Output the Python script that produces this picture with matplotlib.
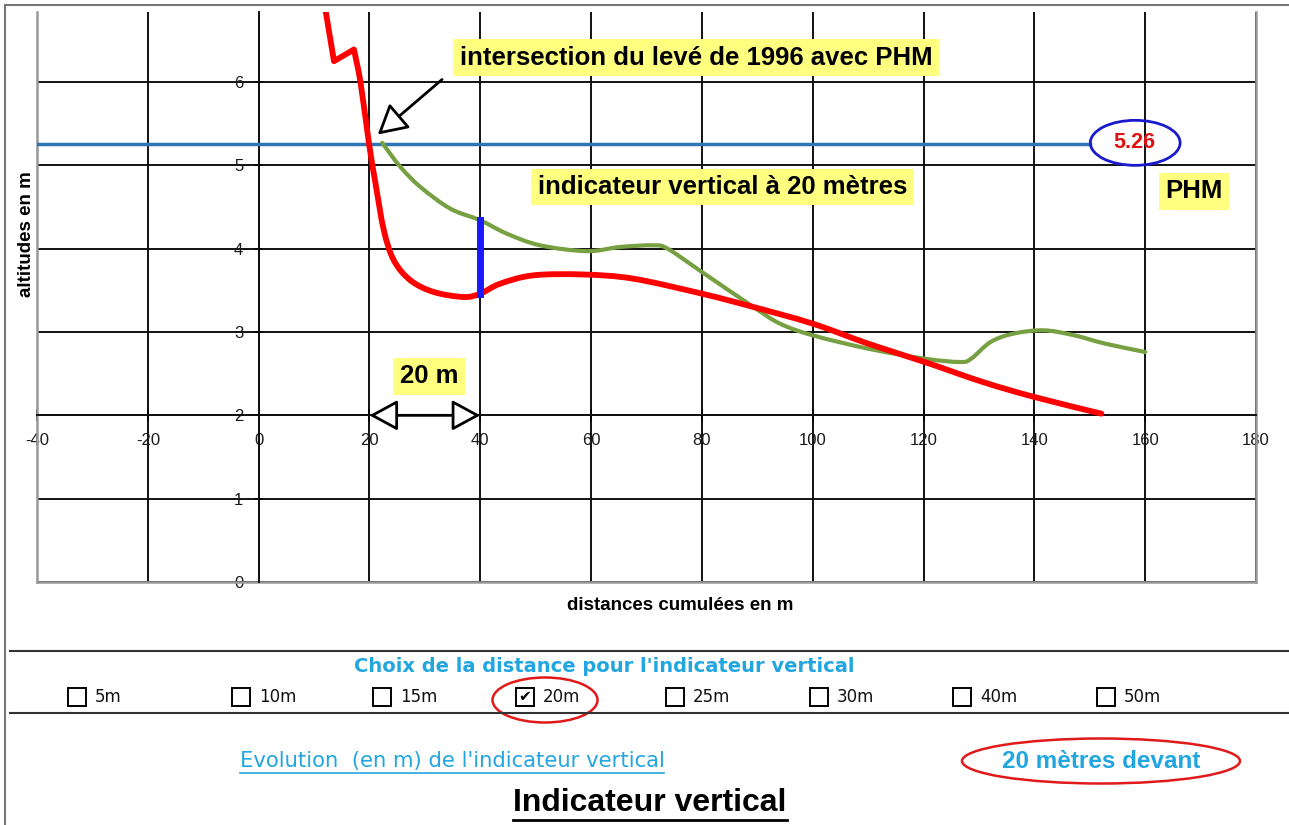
import numpy as np
import matplotlib
matplotlib.use('Agg')
import matplotlib.pyplot as plt
from matplotlib.patches import Ellipse, Rectangle, PathPatch
from matplotlib.path import Path
from matplotlib.lines import Line2D

# profil du levé de 1996 (courbe rouge)
dist_1996 = [11.5, 12.1, 13.6, 17.2, 18.4, 19.9, 21.1, 22.6, 24.4, 27.4, 31.6, 37.0, 40.0,
             43.6, 49.6, 58.6, 67.6, 80.0, 89.3, 100.0, 110.0, 120.2, 130.7, 140.0, 152.1]
alt_1996 = [7.1, 6.85, 6.25, 6.39, 5.99, 5.27, 4.78, 4.22, 3.86, 3.62, 3.48, 3.42, 3.46,
            3.58, 3.68, 3.69, 3.64, 3.46, 3.30, 3.10, 2.86, 2.64, 2.40, 2.22, 2.02]

# profil décalé de l'indicateur vertical (courbe verte)
dist_indic = [22.3, 25.6, 29.2, 34.6, 40.0, 44.8, 50.8, 59.2, 65.2, 71.2, 73.8, 80.0, 89.3,
              94.1, 100.0, 110.0, 120.2, 126.6, 128.6, 132.1, 136.2, 141.7, 147.2, 152.8, 160.0]
alt_indic = [5.27, 4.98, 4.74, 4.48, 4.34, 4.18, 4.04, 3.97, 4.02, 4.04, 4.00, 3.72, 3.30,
             3.10, 2.96, 2.80, 2.68, 2.64, 2.68, 2.88, 2.98, 3.02, 2.96, 2.86, 2.76]

phm_level = 5.26
phm_x = [-40, 150]
indic_dist = 20
indic_x = 40
indic_low = 3.46
indic_high = 4.34
arrow_x = [20, 40]

x_ticks = list(range(-40, 181, 20))
y_ticks = list(range(0, 7))
choix = ['5m', '10m', '15m', '20m', '25m', '30m', '40m', '50m']
choix_coche = '20m'

CYAN = '#22a6df'
YELLOW = '#ffff80'
W, H = 1289, 825

plt.rcParams['font.family'] = ['Liberation Sans', 'DejaVu Sans']
plt.rcParams['axes.unicode_minus'] = False


def fx(px):
    return px / W


def fy(py):
    return 1 - py / H


def smooth_path(xs, ys, corners=()):
    # courbe lissée façon tableur (Catmull-Rom -> Bézier), angles vifs aux indices donnés
    p = np.column_stack([xs, ys]).astype(float)
    n = len(p)
    verts = [p[0]]
    codes = [Path.MOVETO]
    for i in range(n - 1):
        p0 = p[i - 1] if i > 0 and i not in corners else p[i]
        p1, p2 = p[i], p[i + 1]
        p3 = p[i + 2] if i + 2 < n and (i + 1) not in corners else p[i + 1]
        verts += [p1 + (p2 - p0) / 6, p2 - (p3 - p1) / 6, p2]
        codes += [Path.CURVE4] * 3
    return Path(verts, codes)


fig = plt.figure(figsize=(W / 100, H / 100), dpi=100)
ax = fig.add_axes([fx(37), fy(582), (1256 - 37) / W, (582 - 12) / H])
ax.set_xlim(-40, 180)
ax.set_ylim(0, 6.84)
ax.set_xticks(x_ticks)
ax.set_yticks(y_ticks)
ax.grid(True, color='#111111', lw=1.4)
ax.set_axisbelow(True)

ax.spines['bottom'].set_position(('data', 2))
ax.spines['left'].set_position(('data', 0))
for s in ['bottom', 'left']:
    ax.spines[s].set_color('#111111')
    ax.spines[s].set_linewidth(1.4)
ax.spines['top'].set_visible(False)
ax.spines['right'].set_color('#999999')
ax.spines['right'].set_linewidth(1.8)
ax.axvline(-40, color='#999999', lw=1.8, clip_on=False, zorder=2)
ax.axhline(0, color='#999999', lw=1.8, clip_on=False, zorder=2)

ax.tick_params(axis='x', direction='inout', length=8, width=1.2, pad=9,
               labelsize=12, labelcolor='#1a1a1a')
ax.tick_params(axis='y', direction='inout', length=6, width=1.2, pad=8,
               labelsize=12, labelcolor='#1a1a1a')

ax.set_ylabel('altitudes en m', fontweight='bold', fontsize=13.5)
ax.yaxis.set_label_coords(-0.002, 0.61)
ax.set_xlabel('distances cumulées en m', fontweight='bold', fontsize=13.5)
ax.xaxis.set_label_coords(0.5275, -0.027)

# courbes
ax.plot(phm_x, [phm_level, phm_level], color='#2e75b6', lw=2.5, zorder=3)
ax.add_patch(PathPatch(smooth_path(dist_indic, alt_indic), fill=False, ec='#77a042',
                       lw=3, zorder=4, capstyle='round', joinstyle='round'))
ax.add_patch(PathPatch(smooth_path(dist_1996, alt_1996, corners=(2, 3)), fill=False,
                       ec='#ff0000', lw=4.2, zorder=5, capstyle='round', joinstyle='round'))
ax.plot([indic_x, indic_x], [indic_low, indic_high], color='#1a1aff', lw=5, zorder=6)

# valeur PHM
ax.add_patch(Ellipse((158.2, phm_level + 0.01), 16.2, 0.54, fill=False,
                     ec='#1a1acc', lw=2, zorder=6))
ax.text(158.0, phm_level + 0.01, f'{phm_level:.2f}', color='#e01010', fontweight='bold',
        fontsize=15.5, ha='center', va='center', zorder=7)

# annotations
bbox = dict(boxstyle='square,pad=0.25', fc=YELLOW, ec='none')
ax.text(78.9, 6.29, 'intersection du levé de 1996 avec PHM', fontweight='bold',
        fontsize=18.5, ha='center', va='center', bbox=bbox, zorder=7)
ax.text(83.7, 4.74, f'indicateur vertical à {indic_dist} mètres', fontweight='bold',
        fontsize=18.5, ha='center', va='center', bbox=bbox, zorder=7)
ax.text(168.8, 4.69, 'PHM', fontweight='bold', fontsize=18.5, ha='center',
        va='center', bbox=bbox, zorder=7)
ax.text(30.75, 2.47, f'{indic_dist} m', fontweight='bold', fontsize=18.5, ha='center',
        va='center', bbox=bbox, zorder=7)

ax.annotate('', xy=(21.5, 5.37), xytext=(33.1, 6.03),
            arrowprops=dict(arrowstyle='-|>,head_length=0.72,head_width=0.4',
                            fc='white', ec='black', lw=2, mutation_scale=25,
                            shrinkA=0, shrinkB=0), zorder=8)
ax.annotate('', xy=(arrow_x[1], 2), xytext=(arrow_x[0], 2),
            arrowprops=dict(arrowstyle='<|-|>,head_length=0.7,head_width=0.38',
                            fc='white', ec='black', lw=2, mutation_scale=25,
                            shrinkA=0, shrinkB=0), zorder=8)

# cadre et formulaire du bas
fig.add_artist(Line2D([fx(5), 1], [fy(5), fy(5)], color='#777777', lw=1.5))
fig.add_artist(Line2D([fx(5), fx(5)], [fy(5), 0], color='#777777', lw=1.5))
fig.add_artist(Line2D([fx(10), 1], [fy(651), fy(651)], color='#333333', lw=1.5))
fig.add_artist(Line2D([fx(10), 1], [fy(713), fy(713)], color='#333333', lw=1.5))

fig.text(fx(604), fy(667), "Choix de la distance pour l'indicateur vertical",
         ha='center', va='center', color=CYAN, fontweight='bold', fontsize=14,
         family='DejaVu Sans')

box_px = [68, 232, 373, 516, 666, 810, 953, 1097]
for lab, bx in zip(choix, box_px):
    fig.add_artist(Rectangle((fx(bx), fy(706)), 18 / W, 18 / H, fill=False,
                             ec='black', lw=1.4, transform=fig.transFigure))
    fig.text(fx(bx + 27), fy(697), lab, ha='left', va='center', fontsize=12,
             family='DejaVu Sans', color='#111111')
    if lab == choix_coche:
        fig.text(fx(bx + 9), fy(697), '✔', ha='center', va='center', fontsize=11,
                 family='DejaVu Sans')
        fig.add_artist(Ellipse((fx(bx + 29), fy(700)), 105 / W, 45 / H, fill=False,
                               ec='#e0191b', lw=1.8, transform=fig.transFigure))

t_evol = fig.text(fx(452), fy(761), "Evolution  (en m) de l'indicateur vertical",
                  ha='center', va='center', color=CYAN, fontsize=15.2,
                  family='DejaVu Sans')
fig.text(fx(1101), fy(761), f'{indic_dist} mètres devant', ha='center', va='center',
         color=CYAN, fontweight='bold', fontsize=17.5)
fig.add_artist(Ellipse((fx(1101), fy(761)), 278 / W, 45 / H, fill=False,
                       ec='#e0191b', lw=1.8, transform=fig.transFigure))
t_titre = fig.text(fx(650), fy(803), 'Indicateur vertical', ha='center', va='center',
                   color='black', fontweight='bold', fontsize=23)

# soulignements
fig.canvas.draw()
r = fig.canvas.get_renderer()
for t, off, col, lw in [(t_evol, 2, CYAN, 1.2), (t_titre, 2, 'black', 2)]:
    bb = t.get_window_extent(r).transformed(fig.transFigure.inverted())
    fig.add_artist(Line2D([bb.x0, bb.x1], [bb.y0 - off / H, bb.y0 - off / H],
                          color=col, lw=lw))

fig.savefig('out.png', dpi=100)
